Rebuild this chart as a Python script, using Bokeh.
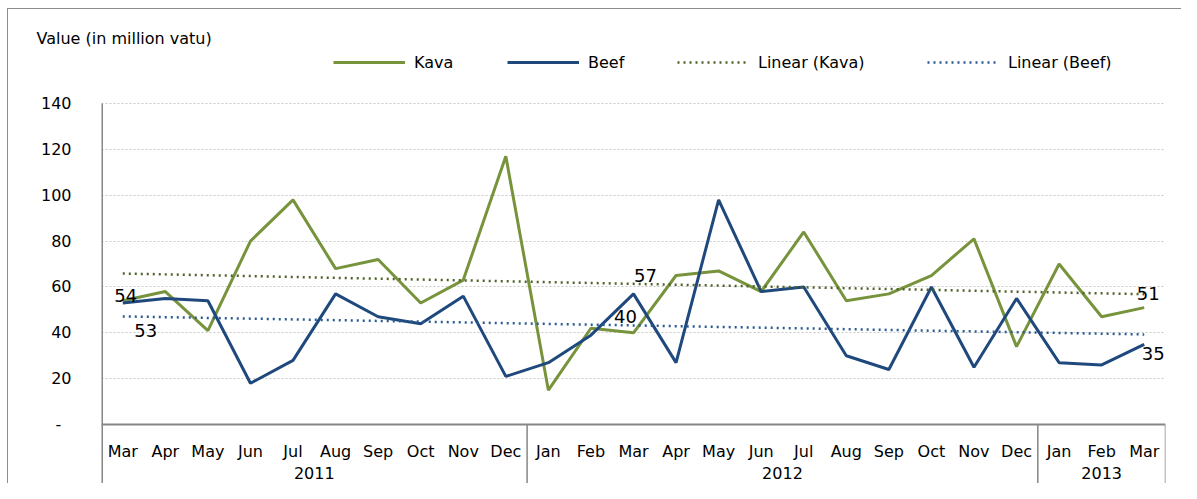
import numpy as np
from bokeh.plotting import figure
from bokeh.models import Range1d, FixedTicker, Span, Legend, LegendItem, ColumnDataSource
from bokeh.core.properties import value
from bokeh.embed import file_html
from bokeh.resources import INLINE

# ---------------- data ----------------
months = ["Mar", "Apr", "May", "Jun", "Jul", "Aug", "Sep", "Oct", "Nov", "Dec",
          "Jan", "Feb", "Mar", "Apr", "May", "Jun", "Jul", "Aug", "Sep", "Oct", "Nov", "Dec",
          "Jan", "Feb", "Mar"]
years = ["2011", "2012", "2013"]
year_counts = [10, 12, 3]
kava = [54, 58, 41, 80, 98, 68, 72, 53, 63, 117,
        15, 42, 40, 65, 67, 58, 84, 54, 57, 65, 81, 34,
        70, 47, 51]
beef = [53, 55, 54, 18, 28, 57, 47, 44, 56, 21,
        27, 39, 57, 27, 98, 58, 60, 30, 24, 60, 25, 55,
        27, 26, 35]
y_ticks = [0, 20, 40, 60, 80, 100, 120, 140]
labelled_points = [0, 12, 24]
y_title = "Value (in million vatu)"
series_names = ["Kava", "Beef", "Linear (Kava)", "Linear (Beef)"]

# ---------------- style ----------------
FONT = "DejaVu Sans"
KAVA_C = "#77933C"
BEEF_C = "#1F497D"
KAVA_T = "#4F6228"
BEEF_T = "#2A5A92"
GRAY = "#868686"

W, H = 1181, 483
Y0, Y1 = -25.7, 164.0

n = len(months)
xs = np.arange(n)
kava_fit = np.polyval(np.polyfit(xs, kava, 1), xs)
beef_fit = np.polyval(np.polyfit(xs, beef, 1), xs)

p = figure(width=W, height=H, x_range=Range1d(-0.5, n - 0.5), y_range=Range1d(Y0, Y1),
           output_backend="svg", toolbar_location=None, x_axis_location=None,
           min_border_left=101, min_border_right=16, min_border_top=48, min_border_bottom=0,
           title=y_title)
p.outline_line_color = None
p.background_fill_color = "white"
p.border_fill_color = None
p.styles = {"background": "linear-gradient(#8c8c8c, #8c8c8c) 7px 8px / 1px 100% no-repeat, "
                          "linear-gradient(#8c8c8c, #8c8c8c) 7px 8px / 100% 1px no-repeat, white"}
p.xgrid.grid_line_color = None

p.title.align = "left"
p.title.offset = -65
p.title.standoff = 2
p.title.text_font = FONT
p.title.text_font_size = "16px"
p.title.text_font_style = "normal"
p.title.text_color = "#000000"

ax = p.yaxis[0]
ax.ticker = FixedTicker(ticks=y_ticks)
ax.major_label_overrides = {0: "-\u00a0\u00a0"}
ax.axis_line_color = None
ax.major_tick_line_color = None
ax.minor_tick_line_color = None
ax.major_label_standoff = 24
ax.major_label_text_font = FONT
ax.major_label_text_font_size = "16px"
ax.major_label_text_color = "#000000"

p.ygrid.ticker = FixedTicker(ticks=y_ticks[1:])
p.ygrid.grid_line_color = "#C8C8C8"
p.ygrid.grid_line_dash = "2 2"
p.ygrid.grid_line_width = 1

# frame / table lines
p.add_layout(Span(location=0, dimension="width", line_color=GRAY, line_width=2))
p.segment(x0=[-0.5], y0=[Y0], x1=[-0.5], y1=[y_ticks[-1]], line_color=GRAY, line_width=3)
bounds = list(np.cumsum(year_counts) - 0.5)
p.segment(x0=bounds, y0=[0] * len(bounds), x1=bounds, y1=[Y0] * len(bounds),
          line_color=GRAY, line_width=1.5)

# category labels
p.text(x=xs, y=[-11.8] * n, text=months, text_align="center", text_baseline="middle",
       text_font=value(FONT), text_font_size="16px", text_color="#000000")
starts = np.concatenate([[0], np.cumsum(year_counts)[:-1]])
year_centers = [s + (c - 1) / 2 for s, c in zip(starts, year_counts)]
p.text(x=year_centers, y=[-21.0] * len(years), text=years, text_align="center",
       text_baseline="middle", text_font=value(FONT), text_font_size="16px", text_color="#000000")

# series
r_kava = p.line(xs, kava, line_color=KAVA_C, line_width=3)
r_beef = p.line(xs, beef, line_color=BEEF_C, line_width=3)
r_kt = p.line(xs, kava_fit, line_color=KAVA_T, line_width=2.5, line_dash="2 4")
r_bt = p.line(xs, beef_fit, line_color=BEEF_T, line_width=2.5, line_dash="2 4")

# data labels
lab_x, lab_y, lab_t = [], [], []
for i in labelled_points:
    lab_x += [i, i]
    lab_y += [kava[i], beef[i]]
    lab_t += [str(kava[i]), str(beef[i])]
x_off = [3, 23, -8, 12, 4, 9]
y_off = [-5, 27, -16, -18, -14, 9]
src = ColumnDataSource(dict(x=lab_x, y=lab_y, text=lab_t, xo=x_off, yo=y_off))
p.text(x="x", y="y", text="text", x_offset="xo", y_offset="yo", source=src,
       text_align="center", text_baseline="middle", text_font=value(FONT),
       text_font_size="18px", text_color="#000000")

# legend: one entry per position
legend_x = [232, 406, 576, 826]
for name, rend, lx in zip(series_names, [r_kava, r_beef, r_kt, r_bt], legend_x):
    lg = Legend(items=[LegendItem(label=name, renderers=[rend])],
                location=(lx, 411), orientation="horizontal", glyph_width=72,
                glyph_height=20, label_standoff=9, padding=0, margin=0,
                border_line_color=None, background_fill_alpha=0,
                label_text_font=FONT, label_text_font_size="16px", label_text_color="#000000")
    p.add_layout(lg)

open("out.html", "w").write(file_html(p, INLINE))
